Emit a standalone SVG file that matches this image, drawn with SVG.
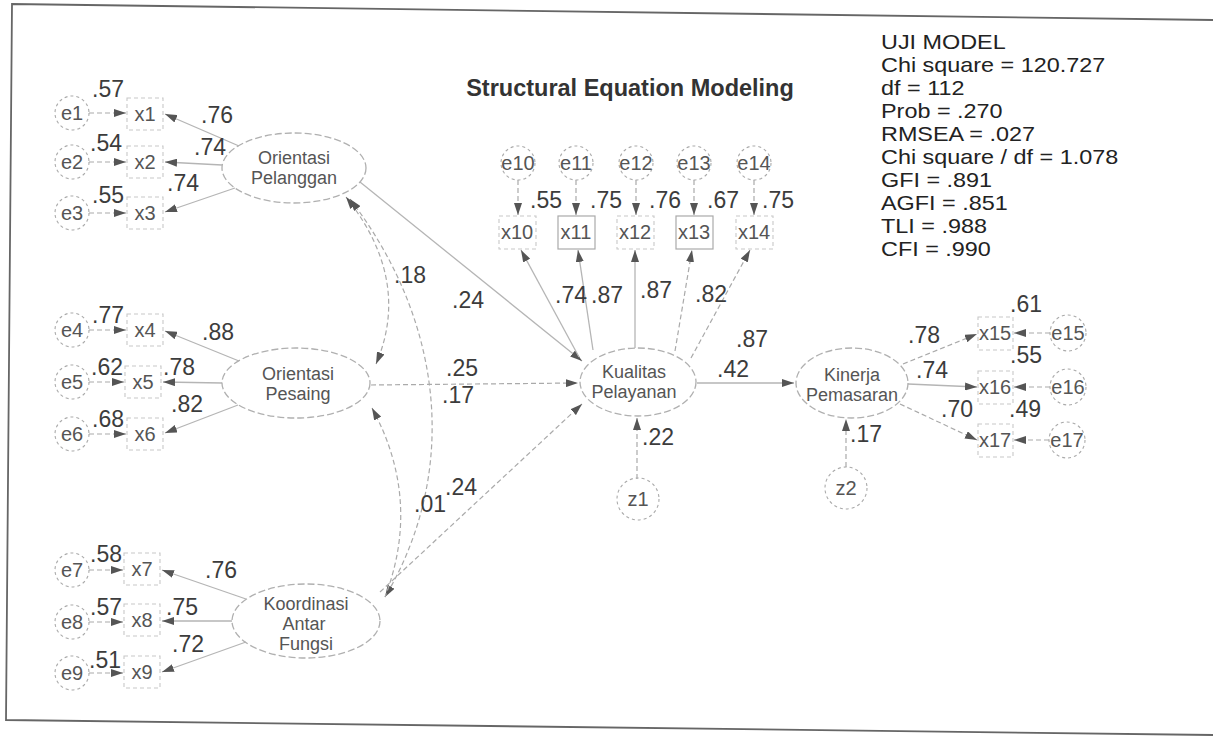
<svg xmlns="http://www.w3.org/2000/svg" width="1213" height="736" viewBox="0 0 1213 736">
<defs>
<marker id="ah" viewBox="0 0 12 8" refX="12" refY="4" markerWidth="12" markerHeight="8" markerUnits="userSpaceOnUse" orient="auto-start-reverse"><path d="M0,0 L12,4 L0,8 z" fill="#555"/></marker>
<style>
.ln{fill:none;stroke:#b5b5b5;stroke-width:1.3}
.dl{fill:none;stroke:#aaa;stroke-width:1.2;stroke-dasharray:5 3}
.lat{fill:none;stroke:#b0b0b0;stroke-width:1.3;stroke-dasharray:7 3}
.err{fill:none;stroke:#aaa;stroke-width:1.1;stroke-dasharray:3 3}
.box{fill:none;stroke:#c8c8c8;stroke-width:1.1;stroke-dasharray:4 3}
.t{font-family:"Liberation Sans",Arial,sans-serif;font-size:20px;fill:#555;text-anchor:middle}
.lt{font-family:"Liberation Sans",Arial,sans-serif;font-size:18px;fill:#555;text-anchor:middle}
.n{font-family:"Liberation Sans",Arial,sans-serif;font-size:23px;fill:#3c3c3c;text-anchor:middle}
.s{font-family:"Liberation Sans",Arial,sans-serif;font-size:20px;fill:#222}
.ttl{font-family:"Liberation Sans",Arial,sans-serif;font-size:23.5px;font-weight:bold;fill:#333;text-anchor:middle}
</style>
</defs>
<rect width="1213" height="736" fill="#fff"/>
<polyline points="1213,20 12,4 6,720 1213,735" fill="none" stroke="#666" stroke-width="1.8"/>

<text class="ttl" x="630" y="96">Structural Equation Modeling</text>

<g id="stats" transform="translate(881,0) scale(1.17,1)">
<text class="s" x="0" y="49">UJI MODEL</text>
<text class="s" x="0" y="72">Chi square = 120.727</text>
<text class="s" x="0" y="95">df = 112</text>
<text class="s" x="0" y="118">Prob = .270</text>
<text class="s" x="0" y="141">RMSEA = .027</text>
<text class="s" x="0" y="164">Chi square / df = 1.078</text>
<text class="s" x="0" y="187">GFI = .891</text>
<text class="s" x="0" y="210">AGFI = .851</text>
<text class="s" x="0" y="233">TLI = .988</text>
<text class="s" x="0" y="256">CFI = .990</text>
</g>

<g id="connectors">
<path class="dl" d="M89 113 L126 113" marker-end="url(#ah)"/>
<path class="dl" d="M89 162 L126 162" marker-end="url(#ah)"/>
<path class="dl" d="M89 213 L126 213" marker-end="url(#ah)"/>
<path class="dl" d="M89 330 L126 330" marker-end="url(#ah)"/>
<path class="dl" d="M89 382 L124 382" marker-end="url(#ah)"/>
<path class="dl" d="M89 434 L126 434" marker-end="url(#ah)"/>
<path class="dl" d="M89 570 L123 570" marker-end="url(#ah)"/>
<path class="dl" d="M89 622 L123 622" marker-end="url(#ah)"/>
<path class="dl" d="M89 673 L123 673" marker-end="url(#ah)"/>
<path class="ln" d="M239 146 L165 114" marker-end="url(#ah)"/>
<path class="ln" d="M222 165 L165 162" marker-end="url(#ah)"/>
<path class="ln" d="M235 188 L165 212" marker-end="url(#ah)"/>
<path class="ln" d="M239 361 L165 331" marker-end="url(#ah)"/>
<path class="ln" d="M222 383 L163 382" marker-end="url(#ah)"/>
<path class="ln" d="M238 405 L165 433" marker-end="url(#ah)"/>
<path class="ln" d="M246 599 L162 570" marker-end="url(#ah)"/>
<path class="ln" d="M232 621 L162 621" marker-end="url(#ah)"/>
<path class="ln" d="M246 642 L162 672" marker-end="url(#ah)"/>
<path class="dl" d="M346 197 Q412 280 376 364" marker-start="url(#ah)" marker-end="url(#ah)"/>
<path class="dl" d="M350 199 C450 330 455 480 385 597" marker-start="url(#ah)" marker-end="url(#ah)"/>
<path class="dl" d="M372 408 Q422 500 385 597" marker-start="url(#ah)"/>
<path class="ln" d="M360 182 L582 361" marker-end="url(#ah)"/>
<path class="dl" d="M371 385 L578 383" marker-end="url(#ah)"/>
<path class="dl" d="M380 592 L582 404" marker-end="url(#ah)"/>
<path class="ln" d="M697 383 L794 383" marker-end="url(#ah)"/>
<path class="dl" d="M637 479 L637 418" marker-end="url(#ah)"/>
<path class="dl" d="M846 467 L846 419" marker-end="url(#ah)"/>
<path class="dl" d="M518 180 L518 215" marker-end="url(#ah)"/>
<path class="dl" d="M576 180 L576 215" marker-end="url(#ah)"/>
<path class="dl" d="M636 180 L636 215" marker-end="url(#ah)"/>
<path class="dl" d="M694 180 L694 215" marker-end="url(#ah)"/>
<path class="dl" d="M754 180 L754 215" marker-end="url(#ah)"/>
<path class="ln" d="M579 357 L521 250" marker-end="url(#ah)"/>
<path class="ln" d="M593 350 L578 250" marker-end="url(#ah)"/>
<path class="ln" d="M635 348 L635 250" marker-end="url(#ah)"/>
<path class="dl" d="M675 351 L692 250" marker-end="url(#ah)"/>
<path class="dl" d="M691 358 L750 250" marker-end="url(#ah)"/>
<path class="dl" d="M903 364 L977 334" marker-end="url(#ah)"/>
<path class="ln" d="M908 384 L977 387" marker-end="url(#ah)"/>
<path class="dl" d="M900 404 L977 440" marker-end="url(#ah)"/>
<path class="dl" d="M1050 333 L1014 333" marker-end="url(#ah)"/>
<path class="dl" d="M1050 387 L1014 387" marker-end="url(#ah)"/>
<path class="dl" d="M1049 440 L1014 440" marker-end="url(#ah)"/>
</g>

<g id="OrientasiPelanggan"><ellipse class="lat" cx="294" cy="168" rx="72" ry="35"/><text class="lt" x="294" y="164">Orientasi</text><text class="lt" x="294" y="184">Pelanggan</text></g>
<g id="OrientasiPesaing"><ellipse class="lat" cx="296" cy="383" rx="74" ry="35"/><text class="lt" x="298" y="380">Orientasi</text><text class="lt" x="298" y="400">Pesaing</text></g>
<g id="KoordinasiAntarFungsi"><ellipse class="lat" cx="306" cy="621" rx="74" ry="37"/><text class="lt" x="306" y="610">Koordinasi</text><text class="lt" x="304" y="630">Antar</text><text class="lt" x="306" y="650">Fungsi</text></g>
<g id="KualitasPelayanan"><ellipse class="lat" cx="638" cy="382" rx="58" ry="34"/><text class="lt" x="634" y="378">Kualitas</text><text class="lt" x="634" y="398">Pelayanan</text></g>
<g id="KinerjaPemasaran"><ellipse class="lat" cx="852" cy="383" rx="56" ry="35"/><text class="lt" x="852" y="381">Kinerja</text><text class="lt" x="852" y="401">Pemasaran</text></g>

<g id="e1"><circle class="err" cx="72" cy="113" r="17"/><text class="t" x="72" y="120">e1</text></g>
<g id="e2"><circle class="err" cx="72" cy="162" r="17"/><text class="t" x="72" y="169">e2</text></g>
<g id="e3"><circle class="err" cx="72" cy="213" r="17"/><text class="t" x="72" y="220">e3</text></g>
<g id="e4"><circle class="err" cx="72" cy="330" r="17"/><text class="t" x="72" y="337">e4</text></g>
<g id="e5"><circle class="err" cx="72" cy="382" r="17"/><text class="t" x="72" y="389">e5</text></g>
<g id="e6"><circle class="err" cx="72" cy="434" r="17"/><text class="t" x="72" y="441">e6</text></g>
<g id="e7"><circle class="err" cx="72" cy="570" r="17"/><text class="t" x="72" y="577">e7</text></g>
<g id="e8"><circle class="err" cx="72" cy="622" r="17"/><text class="t" x="72" y="629">e8</text></g>
<g id="e9"><circle class="err" cx="72" cy="673" r="17"/><text class="t" x="72" y="680">e9</text></g>

<g id="x1"><rect class="box" x="127" y="98" width="36" height="32"/><text class="t" x="145" y="121">x1</text></g>
<g id="x2"><rect class="box" x="127" y="146" width="36" height="32"/><text class="t" x="145" y="169">x2</text></g>
<g id="x3"><rect class="box" x="127" y="197" width="36" height="32"/><text class="t" x="145" y="220">x3</text></g>
<g id="x4"><rect class="box" x="127" y="314" width="36" height="32"/><text class="t" x="145" y="337">x4</text></g>
<g id="x5"><rect class="box" x="125" y="366" width="36" height="32"/><text class="t" x="143" y="389">x5</text></g>
<g id="x6"><rect class="box" x="127" y="418" width="36" height="32"/><text class="t" x="145" y="441">x6</text></g>
<g id="x7"><rect class="box" x="124" y="553" width="36" height="32"/><text class="t" x="142" y="576">x7</text></g>
<g id="x8"><rect class="box" x="124" y="604" width="36" height="32"/><text class="t" x="142" y="627">x8</text></g>
<g id="x9"><rect class="box" x="124" y="656" width="36" height="32"/><text class="t" x="142" y="679">x9</text></g>

<g id="e10"><circle class="err" cx="518" cy="163" r="17"/><text class="t" x="518" y="170">e10</text></g>
<g id="e11"><circle class="err" cx="576" cy="163" r="17"/><text class="t" x="576" y="170">e11</text></g>
<g id="e12"><circle class="err" cx="636" cy="163" r="17"/><text class="t" x="636" y="170">e12</text></g>
<g id="e13"><circle class="err" cx="694" cy="163" r="17"/><text class="t" x="694" y="170">e13</text></g>
<g id="e14"><circle class="err" cx="754" cy="163" r="17"/><text class="t" x="754" y="170">e14</text></g>

<g id="x10"><rect class="box" x="499" y="216" width="37" height="33"/><text class="t" x="517" y="239">x10</text></g>
<g id="x11"><rect x="558" y="216" width="37" height="33" fill="none" stroke="#aaa" stroke-width="1.2"/><text class="t" x="576" y="239">x11</text></g>
<g id="x12"><rect class="box" x="617" y="216" width="37" height="33"/><text class="t" x="635" y="239">x12</text></g>
<g id="x13"><rect x="676" y="216" width="37" height="33" fill="none" stroke="#aaa" stroke-width="1.2"/><text class="t" x="694" y="239">x13</text></g>
<g id="x14"><rect class="box" x="736" y="216" width="37" height="33"/><text class="t" x="754" y="239">x14</text></g>

<g id="x15"><rect class="box" x="978" y="317" width="35" height="33"/><text class="t" x="995" y="340">x15</text></g>
<g id="x16"><rect class="box" x="978" y="371" width="35" height="33"/><text class="t" x="995" y="394">x16</text></g>
<g id="x17"><rect class="box" x="978" y="424" width="35" height="33"/><text class="t" x="995" y="447">x17</text></g>
<g id="e15"><circle class="err" cx="1068" cy="333" r="18"/><text class="t" x="1068" y="340">e15</text></g>
<g id="e16"><circle class="err" cx="1068" cy="387" r="18"/><text class="t" x="1068" y="394">e16</text></g>
<g id="e17"><circle class="err" cx="1067" cy="440" r="18"/><text class="t" x="1067" y="447">e17</text></g>
<g id="z1"><circle class="err" cx="638" cy="499" r="21"/><text class="t" x="638" y="506">z1</text></g>
<g id="z2"><circle class="err" cx="846" cy="488" r="21"/><text class="t" x="846" y="495">z2</text></g>

<g id="labels">
<text class="n" x="108" y="97">.57</text>
<text class="n" x="217" y="123">.76</text>
<text class="n" x="106" y="151">.54</text>
<text class="n" x="210" y="155">.74</text>
<text class="n" x="183" y="191">.74</text>
<text class="n" x="108" y="203">.55</text>
<text class="n" x="108" y="323">.77</text>
<text class="n" x="218" y="340">.88</text>
<text class="n" x="107" y="375">.62</text>
<text class="n" x="179" y="375">.78</text>
<text class="n" x="187" y="412">.82</text>
<text class="n" x="108" y="427">.68</text>
<text class="n" x="106" y="562">.58</text>
<text class="n" x="221" y="578">.76</text>
<text class="n" x="106" y="615">.57</text>
<text class="n" x="182" y="615">.75</text>
<text class="n" x="188" y="652">.72</text>
<text class="n" x="105" y="668">.51</text>
<text class="n" x="410" y="283">.18</text>
<text class="n" x="468" y="308">.24</text>
<text class="n" x="462" y="376">.25</text>
<text class="n" x="458" y="403">.17</text>
<text class="n" x="461" y="495">.24</text>
<text class="n" x="430" y="512">.01</text>
<text class="n" x="546" y="208">.55</text>
<text class="n" x="606" y="208">.75</text>
<text class="n" x="665" y="208">.76</text>
<text class="n" x="723" y="208">.67</text>
<text class="n" x="778" y="208">.75</text>
<text class="n" x="571" y="303">.74</text>
<text class="n" x="607" y="303">.87</text>
<text class="n" x="656" y="298">.87</text>
<text class="n" x="711" y="302">.82</text>
<text class="n" x="752" y="347">.87</text>
<text class="n" x="733" y="377">.42</text>
<text class="n" x="658" y="445">.22</text>
<text class="n" x="866" y="442">.17</text>
<text class="n" x="1026" y="312">.61</text>
<text class="n" x="924" y="343">.78</text>
<text class="n" x="1026" y="363">.55</text>
<text class="n" x="932" y="378">.74</text>
<text class="n" x="957" y="417">.70</text>
<text class="n" x="1025" y="417">.49</text>
</g>
</svg>
